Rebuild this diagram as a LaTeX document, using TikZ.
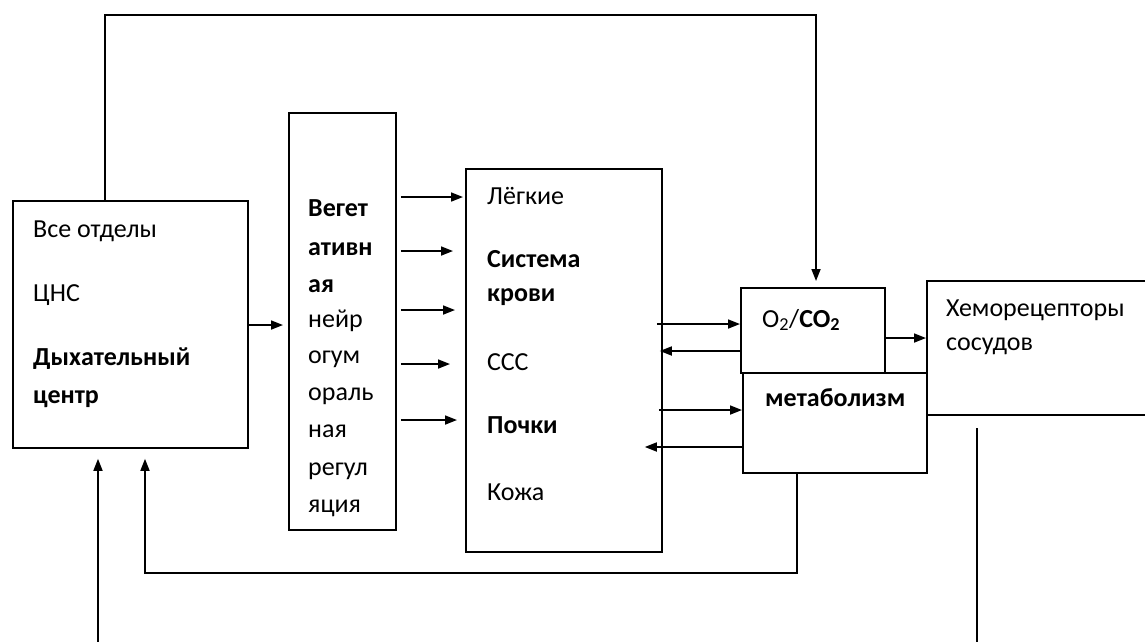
\documentclass[tikz,border=0pt]{standalone}
\usepackage{fontspec}
\setmainfont{Carlito}
\usetikzlibrary{arrows.meta}
\begin{document}
\begin{tikzpicture}[x=1pt,y=-1pt,
  box/.style={draw, line width=1.8pt, inner sep=0pt, anchor=north west},
  conn/.style={line width=1.7pt},
  arr/.style={conn, -{Triangle[length=12pt,width=9pt]}},
  txt/.style={anchor=base west, inner sep=0pt, font=\fontsize{26}{30}\selectfont},
  btxt/.style={anchor=base west, inner sep=0pt, font=\fontsize{26}{30}\selectfont\bfseries}]
\clip (0,0) rectangle (1145,642);
% boxes
\node[box, minimum width=235pt, minimum height=247pt] (cns) at (12,200) {};
\node[box, minimum width=107pt, minimum height=417pt] (veg) at (288,112) {};
\node[box, minimum width=196pt, minimum height=383pt] (org) at (465,168) {};
\node[box, minimum width=144pt, minimum height=85pt] (gas) at (740,287) {};
\node[box, minimum width=184pt, minimum height=100pt] (met) at (742,372) {};
\node[box, minimum width=260pt, minimum height=134pt] (chem) at (926,280) {};
% texts
\node[txt] (c1) at (33,237) {Все отделы};
\node[txt] (c2) at (33,301) {ЦНС};
\node[btxt] (c3) at (33,365) {Дыхательный};
\node[btxt] (c4) at (33,403) {центр};
\node[btxt] (v1) at (308,216) {Вегет};
\node[btxt] (v2) at (308,255) {ативн};
\node[btxt] (v3) at (308,292) {ая};
\node[txt] (v4) at (308,327) {нейр};
\node[txt] (v5) at (308,363) {огум};
\node[txt] (v6) at (308,400) {ораль};
\node[txt] (v7) at (308,437) {ная};
\node[txt] (v8) at (308,475) {регул};
\node[txt] (v9) at (308,512) {яция};
\node[txt] (o1) at (487,204) {Лёгкие};
\node[btxt] (o2) at (487,267) {Система};
\node[btxt] (o3) at (487,301) {крови};
\node[txt] (o4) at (487,370) {ССС};
\node[btxt] (o5) at (487,433) {Почки};
\node[txt] (o6) at (487,500) {Кожа};
\node[txt] (g1) at (762,327) {O\textsubscript{2}/\textbf{CO\textsubscript{2}}};
\node[btxt] (m1) at (765,406) {метаболизм};
\node[txt] (h1) at (946,316) {Хеморецепторы};
\node[txt] (h2) at (946,350) {сосудов};
% connectors
\coordinate (a1) at (0,325);
\draw[arr, shorten >=5pt] (cns.east |- a1) -- (veg.west |- a1);
\foreach \y/\s in {197/2,251/12,310/10,364/15,420/8}{
  \coordinate (vy) at (0,\y);
  \draw[arr, shorten <=4pt, shorten >=\s pt] (veg.east |- vy) -- (org.west |- vy);
}
\coordinate (e1) at (0,324);
\draw[arr, shorten <=-6pt] (org.east |- e1) -- (gas.west |- e1);
\coordinate (e2) at (0,351);
\draw[arr, shorten >=-3pt] (gas.west |- e2) -- (org.east |- e2);
\coordinate (e3) at (0,410);
\draw[arr, shorten <=-4pt] (org.east |- e3) -- (met.west |- e3);
\coordinate (e4) at (0,447);
\draw[arr, shorten >=-18pt] (met.west |- e4) -- (org.east |- e4);
\coordinate (e5) at (0,338);
\draw[arr] (gas.east |- e5) -- (chem.west |- e5);
\coordinate (tl) at (105,15);
\coordinate (tr) at (816,15);
\draw[arr, shorten >=6pt] (cns.north -| tl) -- (tl) -- (tr) -- (gas.north -| tr);
\coordinate (b1) at (797,573);
\coordinate (b2) at (145,573);
\draw[arr, shorten >=10pt] (met.south -| b1) -- (b1) -- (b2) -- (cns.south -| b2);
\coordinate (b3) at (98,650);
\draw[arr, shorten >=10pt] (b3) -- (cns.south -| b3);
\coordinate (r1) at (977,428);
\coordinate (r2) at (977,650);
\draw[conn] (r1) -- (r2);
\end{tikzpicture}
\end{document}
